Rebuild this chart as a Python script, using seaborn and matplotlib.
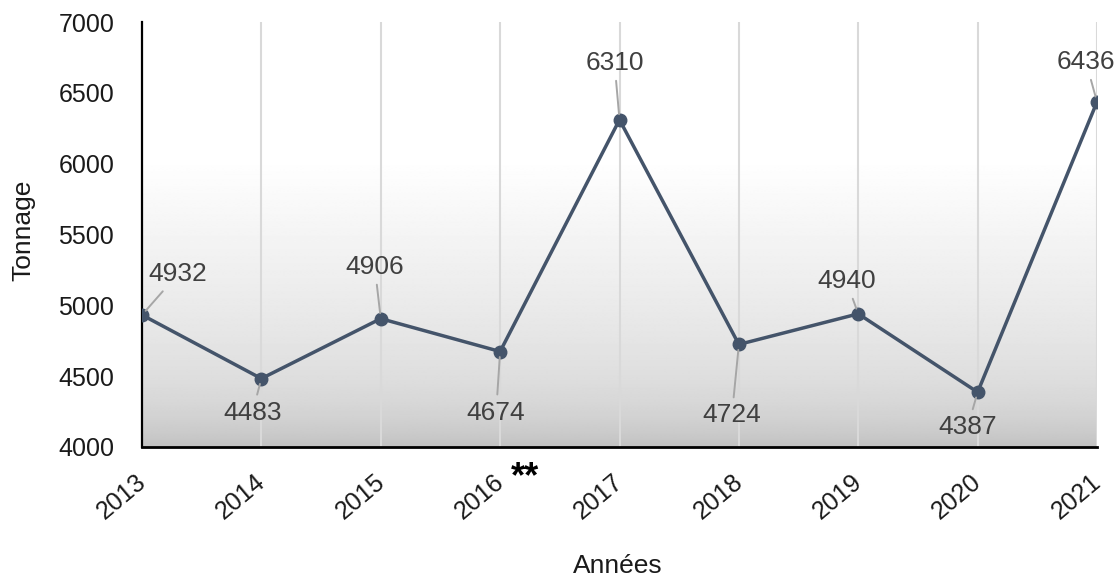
import numpy as np
import pandas as pd
import matplotlib
matplotlib.use("Agg")
import matplotlib.pyplot as plt
import matplotlib.transforms as mtransforms
import seaborn as sns

# Data
years = [2013, 2014, 2015, 2016, 2017, 2018, 2019, 2020, 2021]
tonnage = [4932, 4483, 4906, 4674, 6310, 4724, 4940, 4387, 6436]
year_labels = ["2013", "2014", "2015", "2016", "2017", "2018", "2019", "2020", "2021"]

# Label placement (pixel offsets of each value label from its point)
label_offsets = [(36, 41), (-9, -34), (-6, 52), (-4, -61), (-5, 57),
                 (-7, -71), (-12, 33), (-10, -35), (-11, 40)]

sns.set_theme(style="white")
plt.rcParams["font.family"] = ["Liberation Sans", "DejaVu Sans"]

df = pd.DataFrame({"Année": years, "Tonnage": tonnage})

fig = plt.figure(figsize=(11.2, 5.79), dpi=100)
ax = fig.add_axes([142 / 1120, 1 - 447 / 579, (1097 - 142) / 1120, (447 - 22) / 579])

# Vertical gradient background: white on top, fading to grey at the bottom
yy = np.linspace(1, 0, 400)  # 1 = top, 0 = bottom
t = np.clip((0.68 - yy) / 0.68, 0, 1)
shade = 1 - 0.16 * t - 0.08 * t ** 8
grad = np.tile(shade[:, None], (1, 2))
ax.imshow(grad, extent=[2013, 2021, 4000, 7000], aspect="auto", cmap="gray",
          vmin=0, vmax=1, zorder=0, interpolation="bilinear")

sns.lineplot(data=df, x="Année", y="Tonnage", ax=ax, color="#44546a",
             linewidth=2.5, marker="o", markersize=9, markeredgecolor="#44546a",
             markeredgewidth=1.0, zorder=3)

ax.set_xlim(2013, 2021)
ax.set_ylim(4000, 7000)
ax.set_xticks(years)
ax.set_xticklabels(year_labels, rotation=40, ha="right", rotation_mode="anchor")
ax.set_yticks(np.arange(4000, 7001, 500))
ax.tick_params(axis="x", length=0, pad=16, labelsize=18, colors="#1a1a1a")
ax.tick_params(axis="y", length=0, pad=20, labelsize=18, colors="#1a1a1a")

# nudge the rotated year labels so their right end sits on the tick
shift = mtransforms.ScaledTranslation(-7 / 100, 0, fig.dpi_scale_trans)
for lbl in ax.get_xticklabels():
    lbl.set_transform(lbl.get_transform() + shift)

ax.set_axisbelow(True)
ax.grid(axis="x", color="#d9d9d9", linewidth=1.5)
ax.grid(axis="y", visible=False)

for side in ["top", "right"]:
    ax.spines[side].set_visible(False)
ax.spines["left"].set_color("black")
ax.spines["left"].set_linewidth(1.6)
ax.spines["bottom"].set_color("black")
ax.spines["bottom"].set_linewidth(2.0)

ax.set_xlabel("Années", fontsize=19, color="#1a1a1a", va="center")
ax.set_ylabel("Tonnage", fontsize=19, color="#1a1a1a", va="center")
ax.xaxis.set_label_coords((618 - 142) / 955, -(566 - 447) / 425)
ax.yaxis.set_label_coords(-(142 - 23) / 955, (447 - 230) / 425)

# Value labels with leader lines
for x, v, (dx, dy) in zip(years, tonnage, label_offsets):
    ax.annotate(str(v), xy=(x, v), xytext=(dx, dy), textcoords="offset pixels",
                ha="center", va="center", fontsize=19, color="#404040",
                annotation_clip=False, zorder=4,
                arrowprops=dict(arrowstyle="-", color="#a6a6a6", lw=1.4,
                                shrinkA=2, shrinkB=4))

# Marker next to the 2016 tick label
ax.annotate("**", xy=(2016, 0), xycoords=("data", "axes fraction"),
            xytext=(25, -40), textcoords="offset pixels", ha="center",
            va="baseline", fontsize=26, fontweight="bold", color="black",
            annotation_clip=False)

fig.savefig("out.png", dpi=100)
